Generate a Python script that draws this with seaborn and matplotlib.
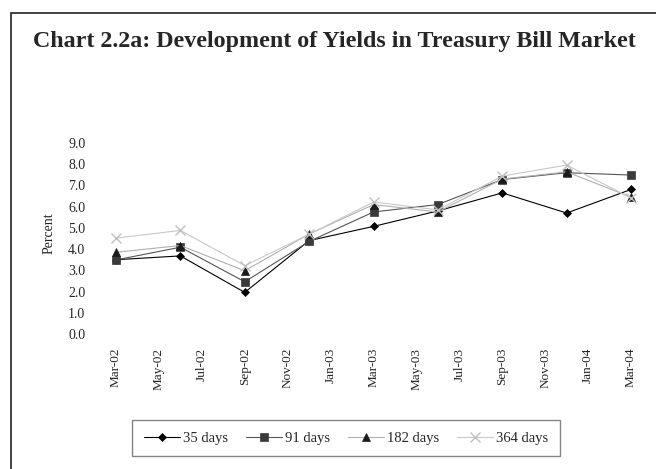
"""Chart 2.2a - yields in the treasury bill market."""

import pandas as pd
import seaborn as sns
import matplotlib.pyplot as plt
from matplotlib.patches import Rectangle

#########################################################################################
#########################################################################################

# quarterly observations, Mar-02 .. Mar-04 (month index from Mar-02)
months = [0, 3, 6, 9, 12, 15, 18, 21, 24]
days_35 = [3.5, 3.68, 1.96, 4.4, 5.07, 5.8, 6.65, 5.7, 6.81]
days_91 = [3.49, 4.09, 2.46, 4.36, 5.75, 6.1, 7.28, 7.6, 7.49]
days_182 = [3.85, 4.17, 2.98, 4.71, 6.1, 5.75, 7.3, 7.64, 6.45]
days_364 = [4.52, 4.88, 3.22, 4.7, 6.22, 5.85, 7.44, 7.96, 6.41]

tick_months = list(range(0, 25, 2))
tick_labels = ['Mar-02', 'May-02', 'Jul-02', 'Sep-02', 'Nov-02', 'Jan-03', 'Mar-03',
               'May-03', 'Jul-03', 'Sep-03', 'Nov-03', 'Jan-04', 'Mar-04']

series = {'35 days': days_35, '91 days': days_91, '182 days': days_182, '364 days': days_364}

# line colour, marker, marker face colour, marker size
styles = {
    '35 days': ('#000000', 'D', '#000000', 4.5),
    '91 days': ('#555555', 's', '#3a3a3a', 6),
    '182 days': ('#b0b0b0', '^', '#1a1a1a', 6),
    '364 days': ('#c8c8c8', 'x', '#c0c0c0', 7),
}

sns.set_style('white')
plt.rcParams['font.family'] = ['Liberation Serif', 'DejaVu Serif']

fig = plt.figure(figsize=(6.56, 4.69), dpi=100)
ax = fig.add_axes([116 / 656, 135 / 469, 515 / 656, 191 / 469])

for name, vals in series.items():
    lc, mk, mc, ms = styles[name]
    df = pd.DataFrame({'month': months, 'yield': vals})
    sns.lineplot(data=df, x='month', y='yield', ax=ax, color=lc, lw=0.8, marker=mk,
                 markersize=ms, markerfacecolor=mc, markeredgecolor=mc,
                 markeredgewidth=1 if mk == 'x' else 0.5, label=name, clip_on=False)

ax.set_xlim(0, 24)
ax.set_ylim(0, 9)
ax.set_yticks([i * 1.0 for i in range(10)])
ax.set_yticklabels(['%.1f' % (i * 1.0) for i in range(10)], fontsize=10)
ax.set_xticks(tick_months)
ax.set_xticklabels(tick_labels, rotation=90, fontsize=9.5)
ax.tick_params(axis='y', length=0, pad=22)
ax.tick_params(axis='x', length=0, pad=10)
ax.set_xlabel('')
ax.set_ylabel('Percent', fontsize=10)
ax.yaxis.set_label_coords(-0.118, 0.526)
sns.despine(ax=ax, left=True, bottom=True)

# Legend below the plot, in a square box
handles, labels = ax.get_legend_handles_labels()
ax.get_legend().remove()
fig.legend(handles, labels, loc='center', bbox_to_anchor=(346 / 656, 1 - 438 / 469),
           ncol=4, fontsize=10.5, frameon=True, fancybox=False, edgecolor='#666666',
           handlelength=2.5, handletextpad=0.2, columnspacing=1.2,
           borderpad=0.8, borderaxespad=0)

fig.text(33 / 656, 1 - 42 / 469, 'Chart 2.2a: Development of Yields in Treasury Bill Market',
         fontsize=17.3, fontweight='bold', va='center', ha='left')

# outer frame, cut at the right and bottom edges
fig.add_artist(Rectangle((11 / 656, -0.2), 1.0, 1.2 - 13 / 469, transform=fig.transFigure,
                         fill=False, edgecolor='#222222', lw=1.2))

fig.savefig('out.png', dpi=100)
